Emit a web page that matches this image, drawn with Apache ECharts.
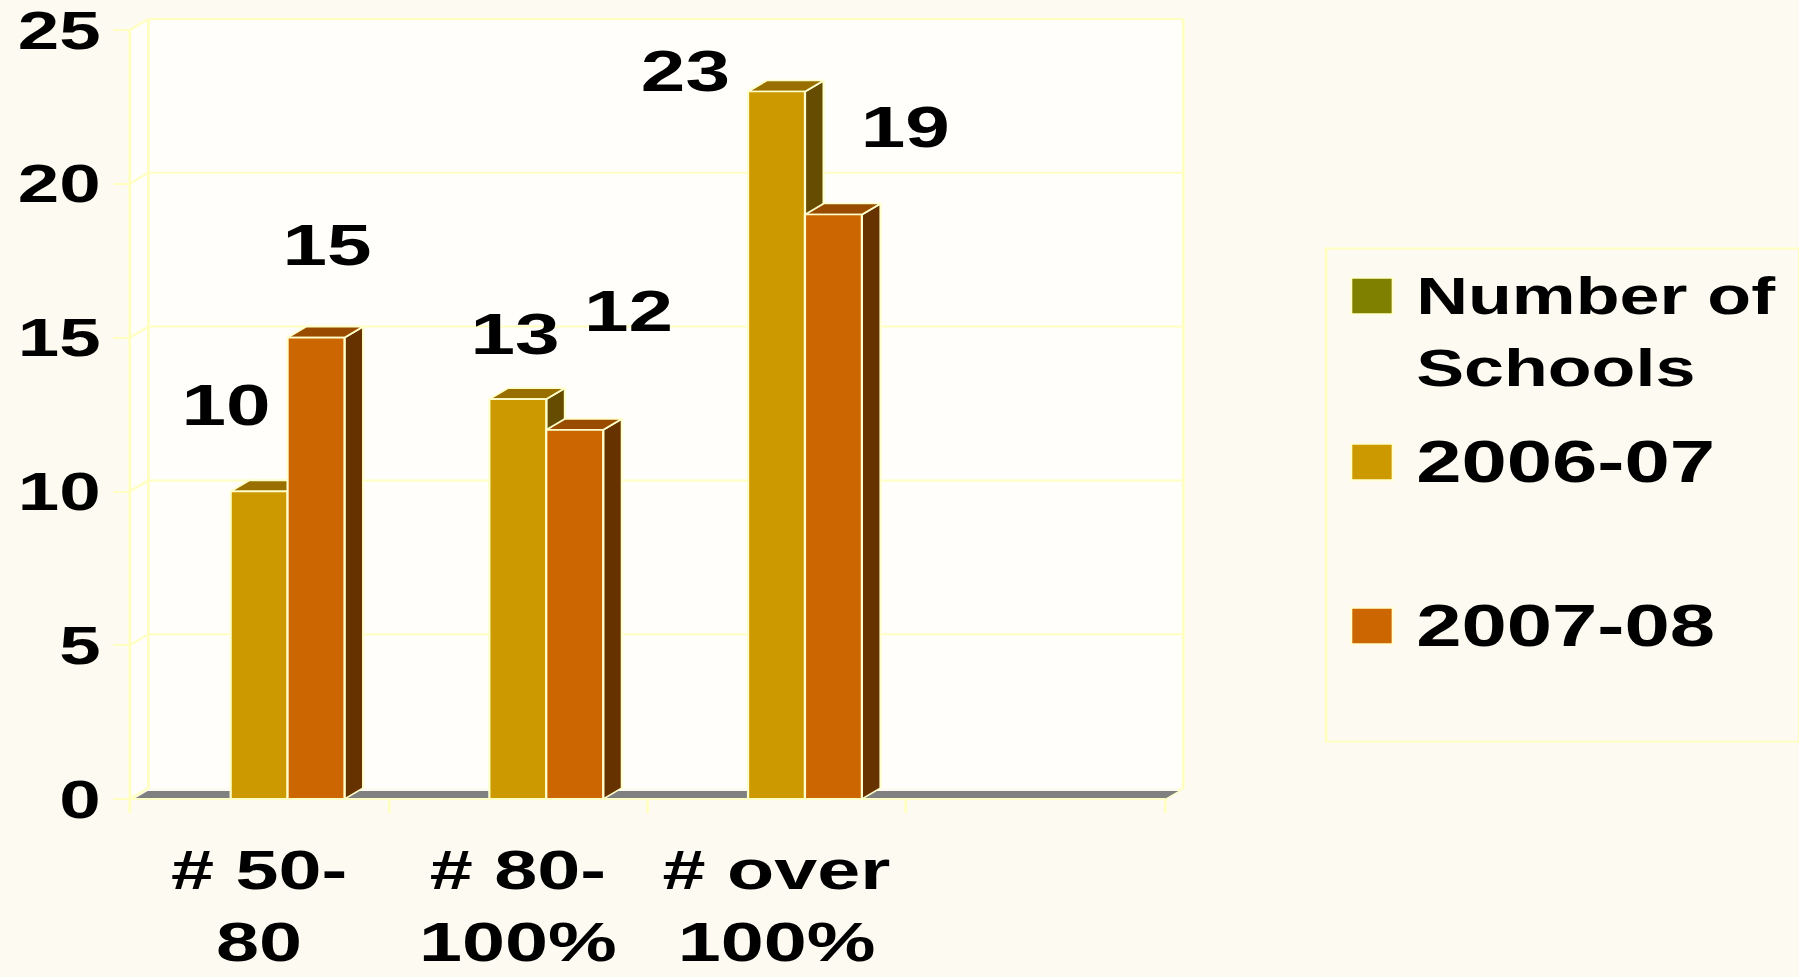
<!DOCTYPE html>
<html>
<head>
<meta charset="utf-8">
<title>Number of Schools</title>
<script src="https://cdn.jsdelivr.net/npm/echarts@6/dist/echarts.min.js"></script>
<style>
  html, body { margin: 0; padding: 0; width: 1799px; height: 977px; overflow: hidden; background: #FDFAF2; }
  /* the slide is laid out at 4:3 and shown widened to the full window */
  #chart { width: 1303px; height: 977px; transform: scaleX(1.3806); transform-origin: 0 0; }
</style>
</head>
<body>
<div id="chart"></div>
<script>
// ---- data ----
const categories = ['# 50-\n80', '# 80-\n100%', '# over\n100%', ''];
const seriesNames = ['Number of Schools', '2006-07', '2007-08'];
const schoolCounts = [];              // legend-only series, carries no values
const counts2006 = [10, 13, 23];
const counts2007 = [15, 12, 19];
const yTicks = [0, 5, 10, 15, 20, 25];

// where each value label sits, relative to the top centre of its bar
const labelNudge2006 = [[-24, -86], [-2, -65], [-66, -20]];
const labelNudge2007 = [[8, -93], [39, -119], [52, -87]];

// ---- look ----
const FONT = "'Liberation Sans', Arial, Helvetica, sans-serif";
const GRID_LINE = '#FFFFC0';
const EDGE = '#FFFFCC';
const DX = 13.5, DY = -11;           // oblique depth of the 3-D box
const GAP = 0.34;                    // share of a category left empty
const palettes = [
  { front: '#808000', top: '#606000', side: '#404000' },
  { front: '#CC9900', top: '#997000', side: '#664C00' },
  { front: '#CC6600', top: '#994C00', side: '#663300' }
];

const chart = echarts.init(document.getElementById('chart'), null, { renderer: 'svg' });

function barRenderer(slot, nudges) {
  const pal = palettes[slot];
  return function (params, api) {
    const cat = api.value(0);
    const v = api.value(1);
    const top = api.coord([cat, v]);
    const base = api.coord([cat, 0]);
    const band = api.size([1, 0])[0];
    const w = band * (1 - GAP) / 3;
    const x0 = top[0] - 1.5 * w + slot * w;
    const x1 = x0 + w;
    const yt = top[1], yb = base[1];
    const edge = { stroke: EDGE, lineWidth: 1.6, lineJoin: 'round' };
    const n = nudges[params.dataIndex];
    return {
      type: 'group',
      children: [
        { type: 'polygon', shape: { points: [[x1, yb], [x1 + DX, yb + DY], [x1 + DX, yt + DY], [x1, yt]] },
          style: Object.assign({ fill: pal.side }, edge) },
        { type: 'polygon', shape: { points: [[x0, yt], [x0 + DX, yt + DY], [x1 + DX, yt + DY], [x1, yt]] },
          style: Object.assign({ fill: pal.top }, edge) },
        { type: 'rect', shape: { x: x0, y: yt, width: w, height: yb - yt },
          style: Object.assign({ fill: pal.front }, edge) },
        { type: 'text', z2: 50, x: x0 + w / 2 + n[0], y: yt + n[1],
          style: { text: String(v), align: 'center', verticalAlign: 'middle',
                   fontFamily: FONT, fontWeight: 'bold', fontSize: 58, fill: '#000' } }
      ]
    };
  };
}

// walls, gridlines and floor of the 3-D plot box
function frameRenderer(params, api) {
  const cs = params.coordSys;
  const L = cs.x, R = cs.x + cs.width;
  const y0 = api.coord([0, yTicks[0]])[1];
  const yTop = api.coord([0, yTicks[yTicks.length - 1]])[1];
  const line = (a, b) => ({ type: 'line', shape: { x1: a[0], y1: a[1], x2: b[0], y2: b[1] },
                             style: { stroke: GRID_LINE, lineWidth: 2 } });
  const kids = [
    { type: 'polygon', shape: { points: [[L + DX, yTop + DY], [R + DX, yTop + DY], [R + DX, y0 + DY], [L + DX, y0 + DY]] },
      style: { fill: 'rgba(255,255,255,0.7)' } },
    { type: 'polygon', shape: { points: [[L, yTop], [L + DX, yTop + DY], [L + DX, y0 + DY], [L, y0]] },
      style: { fill: 'rgba(255,255,255,0.7)' } }
  ];
  yTicks.forEach(function (t) {
    const y = api.coord([0, t])[1];
    kids.push(line([L, y], [L + DX, y + DY]));
    if (t > 0) kids.push(line([L + DX, y + DY], [R + DX, y + DY]));
  });
  kids.push(line([L + DX, yTop + DY], [L + DX, y0 + DY]));
  kids.push(line([R + DX, yTop + DY], [R + DX, y0 + DY]));
  kids.push(line([R, y0], [R + DX, y0 + DY]));
  kids.push({ type: 'polygon', shape: { points: [[L + 3, y0], [R, y0], [R + 10, y0 - 8], [L + 13, y0 - 8]] },
              style: { fill: '#808080' } });
  return { type: 'group', children: kids };
}

function legendFor(name, top, text, size) {
  return {
    data: [{ name: name, icon: 'rect' }],
    orient: 'vertical', left: 978, top: top, padding: 0,
    itemWidth: 30, itemHeight: 36, selectedMode: false,
    itemStyle: { borderColor: EDGE, borderWidth: 1.5 },
    formatter: function () { return text; },
    textStyle: { padding: [0, 0, 0, 12], fontFamily: FONT, fontWeight: 'bold', fontSize: size,
                 color: '#000', lineHeight: 72 }
  };
}

chart.setOption({
  backgroundColor: '#FDFAF2',
  animation: false,
  grid: { left: 94, top: 30, width: 749.5, height: 769, outerBoundsMode: 'none', containLabel: false },
  xAxis: {
    type: 'category', data: categories, boundaryGap: true, z: 3,
    axisLine: { show: true, lineStyle: { color: '#FFFFC8', width: 2 } },
    axisTick: { show: true, length: 14, lineStyle: { color: GRID_LINE, width: 2 } },
    axisLabel: { interval: 0, margin: 35, fontFamily: FONT, fontWeight: 'bold', fontSize: 56,
                 lineHeight: 72, color: '#000' },
    splitLine: { show: false }
  },
  yAxis: {
    type: 'value', min: yTicks[0], max: yTicks[yTicks.length - 1], interval: 5, z: 3,
    axisLine: { show: true, lineStyle: { color: GRID_LINE, width: 2 } },
    axisTick: { show: true, length: 12, lineStyle: { color: GRID_LINE, width: 2 } },
    axisLabel: { margin: 21, fontFamily: FONT, fontWeight: 'bold', fontSize: 54, color: '#000' },
    splitLine: { show: false }
  },
  legend: [
    legendFor(seriesNames[0], 188, '\nNumber of\nSchools', 52),
    legendFor(seriesNames[1], 426, seriesNames[1], 59),
    legendFor(seriesNames[2], 590, seriesNames[2], 59)
  ],
  graphic: [{
    type: 'rect', left: 958, top: 246, silent: true,
    shape: { width: 343, height: 493 },
    style: { fill: 'none', stroke: GRID_LINE, lineWidth: 2 }
  }],
  series: [
    { name: 'frame', type: 'custom', silent: true, z: 1, data: [[0, 0]],
      encode: { x: 0, y: 1 }, renderItem: frameRenderer },
    { name: seriesNames[0], type: 'custom', z: 2, itemStyle: { color: palettes[0].front },
      data: schoolCounts.map((v, i) => [i, v]), encode: { x: 0, y: 1 },
      renderItem: barRenderer(0, []) },
    { name: seriesNames[1], type: 'custom', z: 2, itemStyle: { color: palettes[1].front },
      data: counts2006.map((v, i) => [i, v]), encode: { x: 0, y: 1 },
      renderItem: barRenderer(1, labelNudge2006) },
    { name: seriesNames[2], type: 'custom', z: 2, itemStyle: { color: palettes[2].front },
      data: counts2007.map((v, i) => [i, v]), encode: { x: 0, y: 1 },
      renderItem: barRenderer(2, labelNudge2007) }
  ]
});
</script>
</body>
</html>
